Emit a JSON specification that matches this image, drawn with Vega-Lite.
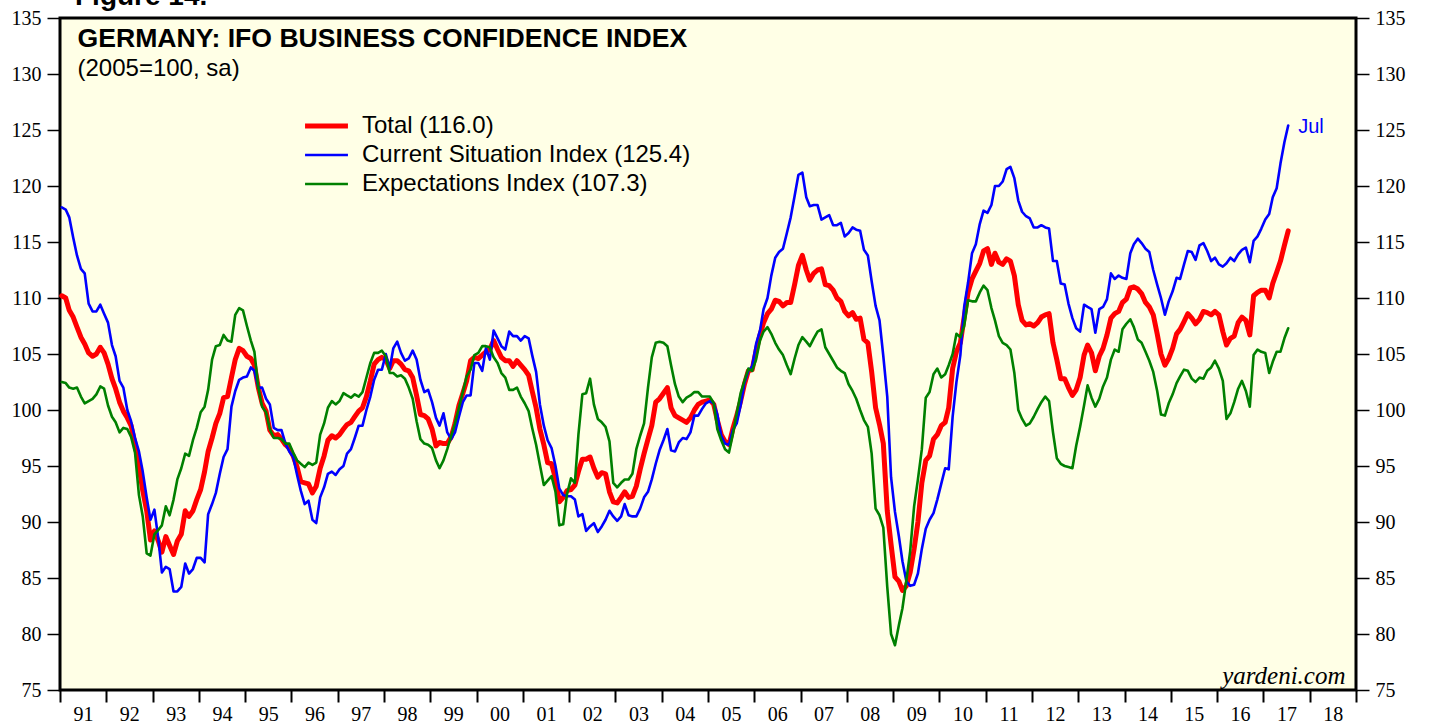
{
"$schema": "https://vega.github.io/schema/vega-lite/v6.json",
"width": 1296,
"height": 672,
"autosize": "none",
"padding": {"left": 60, "top": 18, "right": 73, "bottom": 31},
"background": "white",
"title": {"text": "Figure 14.", "anchor": "start", "frame": "group", "dx": 15, "offset": -25, "font": "Liberation Sans", "fontSize": 28, "fontWeight": "bold", "color": "black", "baseline": "alphabetic"},
"config": {
  "view": {"stroke": "black", "strokeWidth": 3, "fill": "#FFFFE6"},
  "axis": {"labelFont": "Liberation Serif", "labelFontSize": 20, "labelColor": "black", "tickColor": "black", "tickWidth": 1.5, "tickSize": 13, "domain": false, "grid": false, "labelPadding": 6, "labelFlush": false, "labelOverlap": false, "labelBound": false}
},
"data": {"format": {"parse": {"d": "utc:'%Y-%m-%d'"}}, "values": [
{"d":"1991-01-15","t":110.2,"c":118.1,"e":102.5},{"d":"1991-02-15","t":110.0,"c":117.9,"e":102.4},{"d":"1991-03-15","t":108.9,"c":117.2,"e":102.0},{"d":"1991-04-15","t":108.3,"c":115.4,"e":101.9},{"d":"1991-05-15","t":107.4,"c":113.8,"e":102.0},{"d":"1991-06-15","t":106.5,"c":112.6,"e":101.2},{"d":"1991-07-15","t":105.9,"c":112.2,"e":100.6},{"d":"1991-08-15","t":105.1,"c":109.5,"e":100.8},{"d":"1991-09-15","t":104.8,"c":108.8,"e":101.0},{"d":"1991-10-15","t":105.0,"c":108.8,"e":101.4},{"d":"1991-11-15","t":105.6,"c":109.4,"e":102.1},{"d":"1991-12-15","t":105.1,"c":108.6,"e":101.9},
{"d":"1992-01-15","t":104.1,"c":107.8,"e":100.4},{"d":"1992-02-15","t":102.8,"c":105.8,"e":99.4},{"d":"1992-03-15","t":101.9,"c":104.8,"e":98.9},{"d":"1992-04-15","t":100.7,"c":102.6,"e":98.0},{"d":"1992-05-15","t":99.9,"c":102.0,"e":98.4},{"d":"1992-06-15","t":99.3,"c":100.0,"e":98.3},{"d":"1992-07-15","t":98.6,"c":99.0,"e":97.6},{"d":"1992-08-15","t":97.0,"c":97.5,"e":96.2},{"d":"1992-09-15","t":95.0,"c":96.3,"e":92.4},{"d":"1992-10-15","t":92.8,"c":94.5,"e":90.5},{"d":"1992-11-15","t":91.0,"c":92.2,"e":87.2},{"d":"1992-12-15","t":88.4,"c":90.2,"e":87.0},
{"d":"1993-01-15","t":89.2,"c":91.1,"e":88.9},{"d":"1993-02-15","t":88.3,"c":88.5,"e":89.3},{"d":"1993-03-15","t":87.3,"c":85.5,"e":89.7},{"d":"1993-04-15","t":88.7,"c":86.0,"e":91.4},{"d":"1993-05-15","t":87.9,"c":85.8,"e":90.6},{"d":"1993-06-15","t":87.1,"c":83.8,"e":92.0},{"d":"1993-07-15","t":88.3,"c":83.8,"e":93.8},{"d":"1993-08-15","t":88.9,"c":84.2,"e":94.8},{"d":"1993-09-15","t":91.0,"c":86.3,"e":96.1},{"d":"1993-10-15","t":90.5,"c":85.4,"e":95.9},{"d":"1993-11-15","t":91.0,"c":85.8,"e":97.3},{"d":"1993-12-15","t":92.0,"c":86.8,"e":98.4},
{"d":"1994-01-15","t":92.9,"c":86.8,"e":99.8},{"d":"1994-02-15","t":94.5,"c":86.4,"e":100.3},{"d":"1994-03-15","t":96.3,"c":90.7,"e":101.8},{"d":"1994-04-15","t":97.5,"c":91.6,"e":104.5},{"d":"1994-05-15","t":98.8,"c":92.6,"e":105.7},{"d":"1994-06-15","t":99.7,"c":94.3,"e":105.8},{"d":"1994-07-15","t":101.1,"c":95.8,"e":106.7},{"d":"1994-08-15","t":101.2,"c":96.5,"e":106.2},{"d":"1994-09-15","t":102.9,"c":100.3,"e":106.1},{"d":"1994-10-15","t":104.5,"c":101.7,"e":108.5},{"d":"1994-11-15","t":105.5,"c":102.7,"e":109.1},{"d":"1994-12-15","t":105.3,"c":102.9,"e":108.9},
{"d":"1995-01-15","t":104.8,"c":103.0,"e":107.5},{"d":"1995-02-15","t":104.6,"c":103.8,"e":106.2},{"d":"1995-03-15","t":104.0,"c":103.5,"e":105.2},{"d":"1995-04-15","t":102.0,"c":102.0,"e":102.0},{"d":"1995-05-15","t":100.6,"c":102.0,"e":100.3},{"d":"1995-06-15","t":99.9,"c":101.0,"e":99.8},{"d":"1995-07-15","t":98.2,"c":100.5,"e":98.3},{"d":"1995-08-15","t":97.7,"c":98.4,"e":97.5},{"d":"1995-09-15","t":97.8,"c":98.2,"e":97.5},{"d":"1995-10-15","t":97.4,"c":98.2,"e":97.4},{"d":"1995-11-15","t":96.9,"c":97.0,"e":97.0},{"d":"1995-12-15","t":96.6,"c":96.3,"e":97.0},
{"d":"1996-01-15","t":95.9,"c":95.8,"e":96.2},{"d":"1996-02-15","t":94.9,"c":94.2,"e":95.5},{"d":"1996-03-15","t":93.6,"c":92.8,"e":95.2},{"d":"1996-04-15","t":93.5,"c":91.6,"e":94.9},{"d":"1996-05-15","t":93.4,"c":91.9,"e":95.3},{"d":"1996-06-15","t":92.6,"c":90.2,"e":95.1},{"d":"1996-07-15","t":93.2,"c":89.9,"e":95.3},{"d":"1996-08-15","t":94.8,"c":92.2,"e":97.8},{"d":"1996-09-15","t":95.9,"c":93.1,"e":98.8},{"d":"1996-10-15","t":97.3,"c":94.3,"e":100.2},{"d":"1996-11-15","t":97.7,"c":94.5,"e":100.8},{"d":"1996-12-15","t":97.5,"c":94.2,"e":100.5},
{"d":"1997-01-15","t":97.8,"c":94.7,"e":100.8},{"d":"1997-02-15","t":98.3,"c":95.0,"e":101.5},{"d":"1997-03-15","t":98.7,"c":96.1,"e":101.3},{"d":"1997-04-15","t":98.9,"c":96.5,"e":101.1},{"d":"1997-05-15","t":99.4,"c":97.5,"e":101.4},{"d":"1997-06-15","t":99.9,"c":98.6,"e":101.2},{"d":"1997-07-15","t":100.2,"c":98.6,"e":101.6},{"d":"1997-08-15","t":101.2,"c":100.0,"e":102.9},{"d":"1997-09-15","t":102.6,"c":101.2,"e":104.2},{"d":"1997-10-15","t":104.1,"c":102.7,"e":105.1},{"d":"1997-11-15","t":104.5,"c":103.6,"e":105.1},{"d":"1997-12-15","t":104.7,"c":103.6,"e":105.3},
{"d":"1998-01-15","t":104.5,"c":105.0,"e":104.8},{"d":"1998-02-15","t":103.7,"c":103.7,"e":103.3},{"d":"1998-03-15","t":104.4,"c":105.5,"e":103.3},{"d":"1998-04-15","t":104.4,"c":106.1,"e":103.0},{"d":"1998-05-15","t":104.1,"c":105.1,"e":103.1},{"d":"1998-06-15","t":103.6,"c":104.4,"e":102.8},{"d":"1998-07-15","t":103.5,"c":104.6,"e":102.0},{"d":"1998-08-15","t":102.9,"c":105.3,"e":101.0},{"d":"1998-09-15","t":101.3,"c":104.5,"e":99.0},{"d":"1998-10-15","t":99.6,"c":102.7,"e":97.4},{"d":"1998-11-15","t":99.5,"c":101.6,"e":97.0},{"d":"1998-12-15","t":99.2,"c":101.8,"e":96.9},
{"d":"1999-01-15","t":98.3,"c":100.7,"e":96.6},{"d":"1999-02-15","t":96.8,"c":99.3,"e":95.5},{"d":"1999-03-15","t":97.1,"c":98.6,"e":94.8},{"d":"1999-04-15","t":97.0,"c":99.7,"e":95.5},{"d":"1999-05-15","t":97.0,"c":98.0,"e":96.5},{"d":"1999-06-15","t":97.6,"c":97.4,"e":97.7},{"d":"1999-07-15","t":98.8,"c":98.0,"e":98.8},{"d":"1999-08-15","t":100.4,"c":99.4,"e":100.2},{"d":"1999-09-15","t":101.5,"c":100.7,"e":101.6},{"d":"1999-10-15","t":102.6,"c":101.3,"e":103.0},{"d":"1999-11-15","t":104.4,"c":101.3,"e":103.6},{"d":"1999-12-15","t":104.7,"c":104.2,"e":104.9},
{"d":"2000-01-15","t":104.6,"c":104.2,"e":105.1},{"d":"2000-02-15","t":104.9,"c":103.5,"e":105.7},{"d":"2000-03-15","t":105.2,"c":105.5,"e":105.7},{"d":"2000-04-15","t":105.4,"c":104.5,"e":105.6},{"d":"2000-05-15","t":106.2,"c":107.1,"e":104.7},{"d":"2000-06-15","t":105.4,"c":106.4,"e":104.2},{"d":"2000-07-15","t":104.7,"c":105.7,"e":103.3},{"d":"2000-08-15","t":104.4,"c":105.4,"e":102.9},{"d":"2000-09-15","t":104.4,"c":107.0,"e":101.8},{"d":"2000-10-15","t":103.9,"c":106.6,"e":101.8},{"d":"2000-11-15","t":104.4,"c":106.6,"e":102.0},{"d":"2000-12-15","t":104.0,"c":106.2,"e":101.2},
{"d":"2001-01-15","t":103.6,"c":106.6,"e":100.6},{"d":"2001-02-15","t":103.1,"c":106.4,"e":99.9},{"d":"2001-03-15","t":101.7,"c":104.9,"e":98.4},{"d":"2001-04-15","t":100.2,"c":103.4,"e":96.9},{"d":"2001-05-15","t":98.3,"c":100.5,"e":95.1},{"d":"2001-06-15","t":96.9,"c":98.6,"e":93.3},{"d":"2001-07-15","t":95.3,"c":97.3,"e":93.7},{"d":"2001-08-15","t":95.2,"c":96.6,"e":94.1},{"d":"2001-09-15","t":93.9,"c":95.0,"e":92.7},{"d":"2001-10-15","t":91.8,"c":93.0,"e":89.7},{"d":"2001-11-15","t":92.2,"c":92.4,"e":89.8},{"d":"2001-12-15","t":92.8,"c":92.3,"e":92.5},
{"d":"2002-01-15","t":92.9,"c":92.3,"e":93.9},{"d":"2002-02-15","t":93.3,"c":92.0,"e":93.5},{"d":"2002-03-15","t":94.5,"c":90.5,"e":97.8},{"d":"2002-04-15","t":95.6,"c":90.7,"e":101.4},{"d":"2002-05-15","t":95.6,"c":89.2,"e":101.5},{"d":"2002-06-15","t":95.8,"c":89.6,"e":102.8},{"d":"2002-07-15","t":94.8,"c":89.9,"e":100.5},{"d":"2002-08-15","t":94.0,"c":89.1,"e":99.2},{"d":"2002-09-15","t":94.4,"c":89.6,"e":98.9},{"d":"2002-10-15","t":94.3,"c":90.2,"e":98.5},{"d":"2002-11-15","t":92.7,"c":91.0,"e":97.2},{"d":"2002-12-15","t":91.8,"c":90.5,"e":93.5},
{"d":"2003-01-15","t":91.7,"c":90.1,"e":93.1},{"d":"2003-02-15","t":92.2,"c":90.5,"e":93.5},{"d":"2003-03-15","t":92.7,"c":91.6,"e":93.8},{"d":"2003-04-15","t":92.2,"c":90.6,"e":93.8},{"d":"2003-05-15","t":92.3,"c":90.5,"e":94.3},{"d":"2003-06-15","t":93.2,"c":90.5,"e":96.5},{"d":"2003-07-15","t":94.7,"c":91.2,"e":97.7},{"d":"2003-08-15","t":96.1,"c":92.2,"e":98.8},{"d":"2003-09-15","t":97.4,"c":92.7,"e":102.0},{"d":"2003-10-15","t":98.6,"c":93.8,"e":104.7},{"d":"2003-11-15","t":100.7,"c":95.2,"e":106.0},{"d":"2003-12-15","t":101.0,"c":96.4,"e":106.1},
{"d":"2004-01-15","t":101.5,"c":97.3,"e":106.0},{"d":"2004-02-15","t":102.0,"c":98.3,"e":105.7},{"d":"2004-03-15","t":100.2,"c":96.4,"e":104.0},{"d":"2004-04-15","t":99.5,"c":96.3,"e":102.3},{"d":"2004-05-15","t":99.3,"c":97.1,"e":101.2},{"d":"2004-06-15","t":99.1,"c":97.5,"e":100.7},{"d":"2004-07-15","t":98.9,"c":97.4,"e":101.1},{"d":"2004-08-15","t":99.3,"c":98.0,"e":101.3},{"d":"2004-09-15","t":100.0,"c":99.5,"e":101.6},{"d":"2004-10-15","t":100.5,"c":99.5,"e":101.6},{"d":"2004-11-15","t":100.7,"c":100.1,"e":101.2},{"d":"2004-12-15","t":100.8,"c":100.6,"e":101.2},
{"d":"2005-01-15","t":100.9,"c":100.8,"e":101.2},{"d":"2005-02-15","t":100.5,"c":100.6,"e":100.6},{"d":"2005-03-15","t":99.1,"c":99.6,"e":98.3},{"d":"2005-04-15","t":97.8,"c":97.7,"e":97.3},{"d":"2005-05-15","t":97.2,"c":97.0,"e":96.5},{"d":"2005-06-15","t":96.9,"c":96.9,"e":96.2},{"d":"2005-07-15","t":98.3,"c":98.2,"e":97.8},{"d":"2005-08-15","t":99.5,"c":98.8,"e":99.7},{"d":"2005-09-15","t":100.8,"c":100.4,"e":101.5},{"d":"2005-10-15","t":102.3,"c":102.4,"e":102.6},{"d":"2005-11-15","t":103.5,"c":103.5,"e":103.7},{"d":"2005-12-15","t":103.6,"c":103.9,"e":103.5},
{"d":"2006-01-15","t":105.3,"c":105.9,"e":104.5},{"d":"2006-02-15","t":106.7,"c":107.1,"e":106.2},{"d":"2006-03-15","t":107.8,"c":109.0,"e":107.0},{"d":"2006-04-15","t":108.6,"c":110.0,"e":107.4},{"d":"2006-05-15","t":109.0,"c":112.0,"e":106.8},{"d":"2006-06-15","t":109.8,"c":113.6,"e":106.0},{"d":"2006-07-15","t":109.7,"c":114.1,"e":105.4},{"d":"2006-08-15","t":109.3,"c":114.4,"e":104.9},{"d":"2006-09-15","t":109.6,"c":115.8,"e":104.0},{"d":"2006-10-15","t":109.6,"c":117.2,"e":103.2},{"d":"2006-11-15","t":111.2,"c":119.1,"e":104.6},{"d":"2006-12-15","t":112.9,"c":121.0,"e":105.8},
{"d":"2007-01-15","t":113.8,"c":121.2,"e":106.5},{"d":"2007-02-15","t":112.5,"c":119.0,"e":106.1},{"d":"2007-03-15","t":111.6,"c":118.2,"e":105.7},{"d":"2007-04-15","t":112.2,"c":118.3,"e":106.4},{"d":"2007-05-15","t":112.5,"c":118.3,"e":107.0},{"d":"2007-06-15","t":112.6,"c":117.0,"e":107.2},{"d":"2007-07-15","t":111.2,"c":117.2,"e":105.6},{"d":"2007-08-15","t":111.1,"c":117.4,"e":105.0},{"d":"2007-09-15","t":110.7,"c":116.5,"e":104.4},{"d":"2007-10-15","t":110.0,"c":116.5,"e":103.8},{"d":"2007-11-15","t":109.7,"c":116.7,"e":103.5},{"d":"2007-12-15","t":108.8,"c":115.5,"e":103.3},
{"d":"2008-01-15","t":108.4,"c":115.8,"e":102.3},{"d":"2008-02-15","t":108.7,"c":116.3,"e":101.7},{"d":"2008-03-15","t":108.1,"c":116.1,"e":101.0},{"d":"2008-04-15","t":108.2,"c":116.0,"e":100.0},{"d":"2008-05-15","t":106.3,"c":114.3,"e":99.1},{"d":"2008-06-15","t":106.0,"c":113.8,"e":98.5},{"d":"2008-07-15","t":103.4,"c":111.5,"e":96.1},{"d":"2008-08-15","t":100.2,"c":109.3,"e":91.2},{"d":"2008-09-15","t":98.7,"c":108.0,"e":90.6},{"d":"2008-10-15","t":97.0,"c":104.8,"e":89.5},{"d":"2008-11-15","t":91.0,"c":101.2,"e":84.2},{"d":"2008-12-15","t":88.0,"c":94.0,"e":80.0},
{"d":"2009-01-15","t":85.1,"c":90.9,"e":79.0},{"d":"2009-02-15","t":84.7,"c":88.7,"e":80.8},{"d":"2009-03-15","t":83.9,"c":86.5,"e":82.3},{"d":"2009-04-15","t":84.3,"c":84.7,"e":84.8},{"d":"2009-05-15","t":85.5,"c":84.3,"e":87.4},{"d":"2009-06-15","t":87.6,"c":84.4,"e":91.4},{"d":"2009-07-15","t":90.0,"c":85.4,"e":93.8},{"d":"2009-08-15","t":93.5,"c":87.6,"e":96.5},{"d":"2009-09-15","t":95.5,"c":89.4,"e":101.1},{"d":"2009-10-15","t":95.9,"c":90.2,"e":101.6},{"d":"2009-11-15","t":97.4,"c":90.8,"e":103.2},{"d":"2009-12-15","t":97.8,"c":92.0,"e":103.7},
{"d":"2010-01-15","t":98.6,"c":93.4,"e":102.9},{"d":"2010-02-15","t":98.9,"c":94.8,"e":103.2},{"d":"2010-03-15","t":100.2,"c":94.7,"e":104.0},{"d":"2010-04-15","t":103.7,"c":99.4,"e":105.0},{"d":"2010-05-15","t":105.2,"c":102.5,"e":106.8},{"d":"2010-06-15","t":106.0,"c":104.9,"e":106.5},{"d":"2010-07-15","t":108.3,"c":109.2,"e":107.5},{"d":"2010-08-15","t":110.5,"c":111.4,"e":109.8},{"d":"2010-09-15","t":111.7,"c":114.0,"e":109.7},{"d":"2010-10-15","t":112.4,"c":114.8,"e":109.7},{"d":"2010-11-15","t":113.1,"c":116.6,"e":110.5},{"d":"2010-12-15","t":114.2,"c":117.8,"e":111.1},
{"d":"2011-01-15","t":114.4,"c":117.6,"e":110.7},{"d":"2011-02-15","t":113.0,"c":118.3,"e":109.1},{"d":"2011-03-15","t":114.0,"c":120.0,"e":108.0},{"d":"2011-04-15","t":113.2,"c":120.0,"e":106.6},{"d":"2011-05-15","t":113.0,"c":120.4,"e":106.0},{"d":"2011-06-15","t":113.5,"c":121.5,"e":105.8},{"d":"2011-07-15","t":113.3,"c":121.7,"e":105.4},{"d":"2011-08-15","t":112.0,"c":120.7,"e":103.3},{"d":"2011-09-15","t":109.4,"c":118.7,"e":100.0},{"d":"2011-10-15","t":108.0,"c":117.7,"e":99.2},{"d":"2011-11-15","t":107.6,"c":117.3,"e":98.6},{"d":"2011-12-15","t":107.7,"c":117.1,"e":98.8},
{"d":"2012-01-15","t":107.5,"c":116.3,"e":99.4},{"d":"2012-02-15","t":107.8,"c":116.3,"e":100.1},{"d":"2012-03-15","t":108.3,"c":116.5,"e":100.7},{"d":"2012-04-15","t":108.5,"c":116.3,"e":101.2},{"d":"2012-05-15","t":108.6,"c":116.2,"e":100.8},{"d":"2012-06-15","t":106.0,"c":113.3,"e":98.0},{"d":"2012-07-15","t":104.5,"c":113.3,"e":95.7},{"d":"2012-08-15","t":102.8,"c":111.3,"e":95.2},{"d":"2012-09-15","t":102.8,"c":111.2,"e":95.0},{"d":"2012-10-15","t":102.0,"c":109.5,"e":94.9},{"d":"2012-11-15","t":101.3,"c":108.2,"e":94.8},{"d":"2012-12-15","t":101.8,"c":107.3,"e":96.8},
{"d":"2013-01-15","t":102.9,"c":107.0,"e":98.5},{"d":"2013-02-15","t":104.9,"c":109.4,"e":100.4},{"d":"2013-03-15","t":105.8,"c":109.2,"e":102.2},{"d":"2013-04-15","t":105.1,"c":109.0,"e":101.1},{"d":"2013-05-15","t":103.5,"c":106.9,"e":100.3},{"d":"2013-06-15","t":104.8,"c":109.0,"e":101.0},{"d":"2013-07-15","t":105.5,"c":109.2,"e":102.1},{"d":"2013-08-15","t":106.7,"c":109.9,"e":102.9},{"d":"2013-09-15","t":108.2,"c":112.2,"e":104.5},{"d":"2013-10-15","t":108.6,"c":111.7,"e":105.4},{"d":"2013-11-15","t":108.8,"c":112.0,"e":105.2},{"d":"2013-12-15","t":109.6,"c":111.8,"e":107.2},
{"d":"2014-01-15","t":109.9,"c":111.7,"e":107.7},{"d":"2014-02-15","t":110.9,"c":114.0,"e":108.1},{"d":"2014-03-15","t":111.0,"c":114.8,"e":107.4},{"d":"2014-04-15","t":110.8,"c":115.3,"e":106.3},{"d":"2014-05-15","t":110.4,"c":114.9,"e":106.0},{"d":"2014-06-15","t":109.6,"c":114.4,"e":105.2},{"d":"2014-07-15","t":109.2,"c":114.1,"e":104.4},{"d":"2014-08-15","t":108.5,"c":112.5,"e":103.4},{"d":"2014-09-15","t":106.8,"c":111.2,"e":101.7},{"d":"2014-10-15","t":105.0,"c":110.0,"e":99.6},{"d":"2014-11-15","t":104.0,"c":108.5,"e":99.5},{"d":"2014-12-15","t":104.6,"c":109.7,"e":100.6},
{"d":"2015-01-15","t":105.5,"c":110.6,"e":101.4},{"d":"2015-02-15","t":106.8,"c":111.8,"e":102.4},{"d":"2015-03-15","t":107.2,"c":111.7,"e":103.0},{"d":"2015-04-15","t":107.9,"c":113.0,"e":103.6},{"d":"2015-05-15","t":108.6,"c":114.2,"e":103.5},{"d":"2015-06-15","t":108.2,"c":114.1,"e":102.8},{"d":"2015-07-15","t":107.7,"c":113.4,"e":102.5},{"d":"2015-08-15","t":108.1,"c":114.7,"e":102.9},{"d":"2015-09-15","t":108.8,"c":114.9,"e":102.8},{"d":"2015-10-15","t":108.7,"c":114.2,"e":103.5},{"d":"2015-11-15","t":108.5,"c":113.3,"e":103.8},{"d":"2015-12-15","t":108.8,"c":113.6,"e":104.4},
{"d":"2016-01-15","t":108.5,"c":113.0,"e":103.7},{"d":"2016-02-15","t":107.0,"c":112.8,"e":102.6},{"d":"2016-03-15","t":105.8,"c":113.1,"e":99.2},{"d":"2016-04-15","t":106.4,"c":113.6,"e":99.7},{"d":"2016-05-15","t":106.6,"c":113.3,"e":100.7},{"d":"2016-06-15","t":107.8,"c":113.9,"e":101.9},{"d":"2016-07-15","t":108.3,"c":114.3,"e":102.6},{"d":"2016-08-15","t":108.0,"c":114.5,"e":101.7},{"d":"2016-09-15","t":106.7,"c":113.2,"e":100.3},{"d":"2016-10-15","t":110.2,"c":115.1,"e":104.9},{"d":"2016-11-15","t":110.5,"c":115.5,"e":105.4},{"d":"2016-12-15","t":110.7,"c":116.2,"e":105.2},
{"d":"2017-01-15","t":110.7,"c":117.0,"e":105.1},{"d":"2017-02-15","t":110.0,"c":117.5,"e":103.3},{"d":"2017-03-15","t":111.3,"c":119.0,"e":104.3},{"d":"2017-04-15","t":112.3,"c":119.8,"e":105.2},{"d":"2017-05-15","t":113.3,"c":122.0,"e":105.2},{"d":"2017-06-15","t":114.7,"c":123.9,"e":106.4},{"d":"2017-07-15","t":116.0,"c":125.4,"e":107.3}
]},
"layer": [
  {
    "transform": [{"fold": ["t", "c", "e"], "as": ["k", "v"]}],
    "mark": {"type": "line", "strokeJoin": "round", "strokeCap": "round"},
    "encoding": {
      "x": {"field": "d", "type": "temporal",
        "scale": {"type": "utc", "domain": [{"year": 1991, "month": 1, "date": 1, "utc": true}, {"year": 2019, "month": 1, "date": 1, "utc": true}]},
        "axis": {"orient": "bottom", "tickCount": {"interval": "year", "step": 1}, "labelExpr": "utcyear(datum.value) >= 2019 ? '' : utcFormat(datum.value, '%y')", "labelOffset": 23, "tickWidth": 2, "tickSize": 12, "labelPadding": 2,
          "title": "yardeni.com", "titleX": 1285, "titleY": -7, "titleAlign": "right", "titleBaseline": "alphabetic", "titleAngle": 0, "titleFont": "Liberation Serif", "titleFontStyle": "italic", "titleFontWeight": "normal", "titleFontSize": 25, "titleColor": "black"}},
      "y": {"field": "v", "type": "quantitative",
        "scale": {"domain": [75, 135], "nice": false, "zero": false},
        "axis": {"orient": "left", "values": [75, 80, 85, 90, 95, 100, 105, 110, 115, 120, 125, 130, 135],
          "title": "GERMANY: IFO BUSINESS CONFIDENCE INDEX", "titleAngle": 0, "titleX": 17, "titleY": 20, "titleAlign": "left", "titleBaseline": "middle", "titleFont": "Liberation Sans", "titleFontSize": 26.6, "titleFontWeight": "bold", "titleColor": "black"}},
      "color": {"field": "k", "type": "nominal",
        "scale": {"domain": ["t", "c", "e"], "range": ["#FF0000", "#0000FF", "#008000"]},
        "legend": {"orient": "none", "legendX": 245, "legendY": 90.5, "title": null, "symbolType": "M-1.43,0H1.43", "symbolSize": 900, "symbolOffset": 4, "rowPadding": 0, "labelOffset": 18, "labelFont": "Liberation Sans", "labelFontSize": 24, "labelColor": "black", "labelLimit": 800, "padding": 0,
          "labelExpr": "datum.value == 't' ? 'Total (116.0)' : datum.value == 'c' ? 'Current Situation Index (125.4)' : 'Expectations Index (107.3)'"}},
      "strokeWidth": {"field": "k", "type": "nominal",
        "scale": {"type": "ordinal", "domain": ["t", "c", "e"], "range": [5, 2.6, 2.6]},
        "legend": {"orient": "none", "legendX": 245, "legendY": 90.5, "title": null, "symbolType": "M-1.43,0H1.43", "symbolSize": 900, "symbolOffset": 4, "rowPadding": 0, "labelOffset": 18, "labelFont": "Liberation Sans", "labelFontSize": 24, "labelColor": "black", "labelLimit": 800, "padding": 0,
          "labelExpr": "datum.value == 't' ? 'Total (116.0)' : datum.value == 'c' ? 'Current Situation Index (125.4)' : 'Expectations Index (107.3)'"}}
    }
  },
  {
    "transform": [{"filter": "utcyear(datum.d) == 2017 && utcmonth(datum.d) == 6"}],
    "mark": {"type": "text", "align": "left", "baseline": "middle", "dx": 10, "dy": 1, "font": "Liberation Sans", "fontSize": 20, "color": "#0000FF"},
    "encoding": {
      "x": {"field": "d", "type": "temporal"},
      "y": {"field": "c", "type": "quantitative",
        "axis": {"orient": "right", "values": [75, 80, 85, 90, 95, 100, 105, 110, 115, 120, 125, 130, 135],
          "title": "(2005=100, sa)", "titleAngle": 0, "titleX": -1279, "titleY": 50, "titleAlign": "left", "titleBaseline": "middle", "titleFont": "Liberation Sans", "titleFontSize": 24, "titleFontWeight": "normal", "titleColor": "black"}},
      "text": {"value": "Jul"}
    }
  }
],
"resolve": {"axis": {"y": "independent"}}
}
